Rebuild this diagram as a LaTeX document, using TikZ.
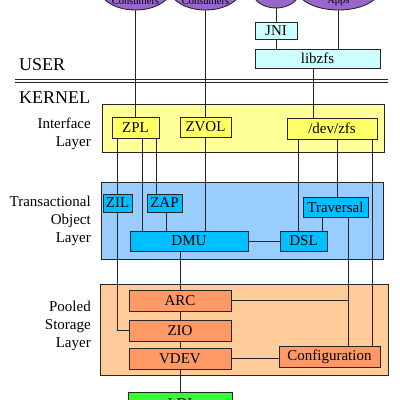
\documentclass[tikz,border=0pt]{standalone}
\usepackage{fontspec}
\setmainfont{Liberation Serif}
\usetikzlibrary{shapes.geometric}
\definecolor{appviolet}{HTML}{9966CC}
\definecolor{libcyan}{HTML}{CCFFFF}
\definecolor{ifyellow}{HTML}{FFFF99}
\definecolor{ifmod}{HTML}{FFFF66}
\definecolor{tolblue}{HTML}{99CCFF}
\definecolor{tolmod}{HTML}{00BFFF}
\definecolor{psorange}{HTML}{FFCC99}
\definecolor{psmod}{HTML}{FF9966}
\definecolor{ldigreen}{HTML}{33FF33}
\tikzset{
  layer/.style={draw=black!85, line width=0.9pt, inner sep=0pt},
  mod/.style={draw=black!85, line width=0.9pt, inner sep=0pt,
    font=\fontsize{15}{17}\selectfont},
  app/.style={ellipse, draw=black!85, line width=0.9pt, fill=appviolet, inner sep=0pt},
  apptext/.style={anchor=base, inner sep=0pt, font=\fontsize{10.5}{12}\selectfont},
  layername/.style={anchor=east, align=right, inner sep=0pt,
    font=\fontsize{15}{18}\selectfont},
  ring/.style={anchor=base west, inner sep=0pt, font=\fontsize{18}{20}\selectfont},
  wire/.style={line width=0.9pt, black!85}
}
\begin{document}
\begin{tikzpicture}[x=1pt,y=-1pt]
\useasboundingbox (0,0) rectangle (400,400);
\clip (0,0) rectangle (400,400);
% user side
\node[app, minimum width=72, minimum height=44] (cons1) at (135.5,-12) {};
\node[app, minimum width=72, minimum height=44] (cons2) at (205.5,-12) {};
\node[app, minimum width=48, minimum height=36] (gui) at (276,-10) {};
\node[app, minimum width=84, minimum height=44] (apps) at (338.5,-12) {};
\node[apptext] (cons1txt) at (135.5,4) {Consumers};
\node[apptext] (cons2txt) at (205.5,4) {Consumers};
\node[apptext] (appstxt) at (338.5,3) {Apps};
\node[mod, fill=libcyan, minimum width=42, minimum height=17] (jni) at (276,30.5) {JNI};
\node[mod, fill=libcyan, minimum width=125, minimum height=19] (libzfs) at (317.5,58.5) {libzfs};
\node[ring] (user) at (19,70) {USER};
\draw[line width=1.3pt, black!85] (15,79.7) -- (388,79.7) (15,82.3) -- (388,82.3);
\node[ring] (kernel) at (19,103.5) {KERNEL};
% layers
\node[layer, fill=ifyellow, minimum width=282, minimum height=48] (iflayer) at (243,128) {};
\node[layer, fill=tolblue, minimum width=282, minimum height=77] (tollayer) at (242,220.5) {};
\node[layer, fill=psorange, minimum width=288, minimum height=91] (pslayer) at (244,329.5) {};
\node[layername] (ifname) at (91,134) {Interface\\Layer};
\node[layername] (tolname) at (91,221) {Transactional\\Object\\Layer};
\node[layername] (psname) at (91,326) {Pooled\\Storage\\Layer};
% modules
\node[mod, fill=ifmod, minimum width=47, minimum height=21] (zpl) at (135.5,127.5) {ZPL};
\node[mod, fill=ifmod, minimum width=51, minimum height=20] (zvol) at (205.5,127) {ZVOL};
\node[mod, fill=ifmod, minimum width=90, minimum height=21] (devzfs) at (332,128.5) {/dev/zfs};
\node[mod, fill=tolmod, minimum width=29, minimum height=18] (zil) at (117.5,203) {ZIL};
\node[mod, fill=tolmod, minimum width=35, minimum height=18] (zap) at (164.5,203) {ZAP};
\node[mod, fill=tolmod, minimum width=65, minimum height=20] (traversal) at (335.5,207) {Traversal};
\node[mod, fill=tolmod, minimum width=118, minimum height=20] (dmu) at (189,241) {DMU};
\node[mod, fill=tolmod, minimum width=47, minimum height=20] (dsl) at (303.5,241) {DSL};
\node[mod, fill=psmod, minimum width=102, minimum height=21] (arc) at (180,300.5) {ARC};
\node[mod, fill=psmod, minimum width=102, minimum height=21] (zio) at (180,330.5) {ZIO};
\node[mod, fill=psmod, minimum width=102, minimum height=21] (vdev) at (180,358.5) {VDEV};
\node[mod, fill=psmod, minimum width=101, minimum height=21] (config) at (329.5,356.5) {Configuration};
\node[mod, fill=ldigreen, minimum width=104, minimum height=24] (ldi) at (180,404) {LDI};
% connectors
\draw[wire] (cons1.south) -- (zpl.north);
\draw[wire] (cons2.south) -- (zvol.north);
\draw[wire] (gui.south) -- (jni.north);
\draw[wire] (jni.south) -- (jni.south |- libzfs.north);
\draw[wire] (apps.south) -- (apps.south |- libzfs.north);
\draw[wire] (313,0 |- libzfs.south) -- (313,0 |- devzfs.north);
\draw[wire] (zil.north |- zpl.south) -- (zil.north);
\draw[wire] (zil.south) |- (zio.west);
\draw[wire] (142,0 |- zpl.south) -- (142,0 |- dmu.north);
\draw[wire] (156,0 |- zpl.south) -- (156,0 |- zap.north);
\draw[wire] (166,0 |- zap.south) -- (166,0 |- dmu.north);
\draw[wire] (zvol.south) -- (zvol.south |- dmu.north);
\draw[wire] (298,0 |- devzfs.south) -- (298,0 |- dsl.north);
\draw[wire] (337,0 |- devzfs.south) -- (337,0 |- traversal.north);
\draw[wire] (372,0 |- devzfs.south) -- (372,0 |- config.north);
\draw[wire] (322,0 |- traversal.south) -- (322,0 |- dsl.north);
\draw[wire] (348,0 |- traversal.south) -- (348,0 |- config.north);
\draw[wire] (arc.east) -- (348,0 |- arc.east);
\draw[wire] (dmu.east) -- (dsl.west);
\draw[wire] (arc.north |- dmu.south) -- (arc.north);
\draw[wire] (arc.south) -- (zio.north);
\draw[wire] (zio.south) -- (vdev.north);
\draw[wire] (vdev.east) -- (vdev.east -| config.west);
\draw[wire] (vdev.south) -- (ldi.north);
\end{tikzpicture}
\end{document}
